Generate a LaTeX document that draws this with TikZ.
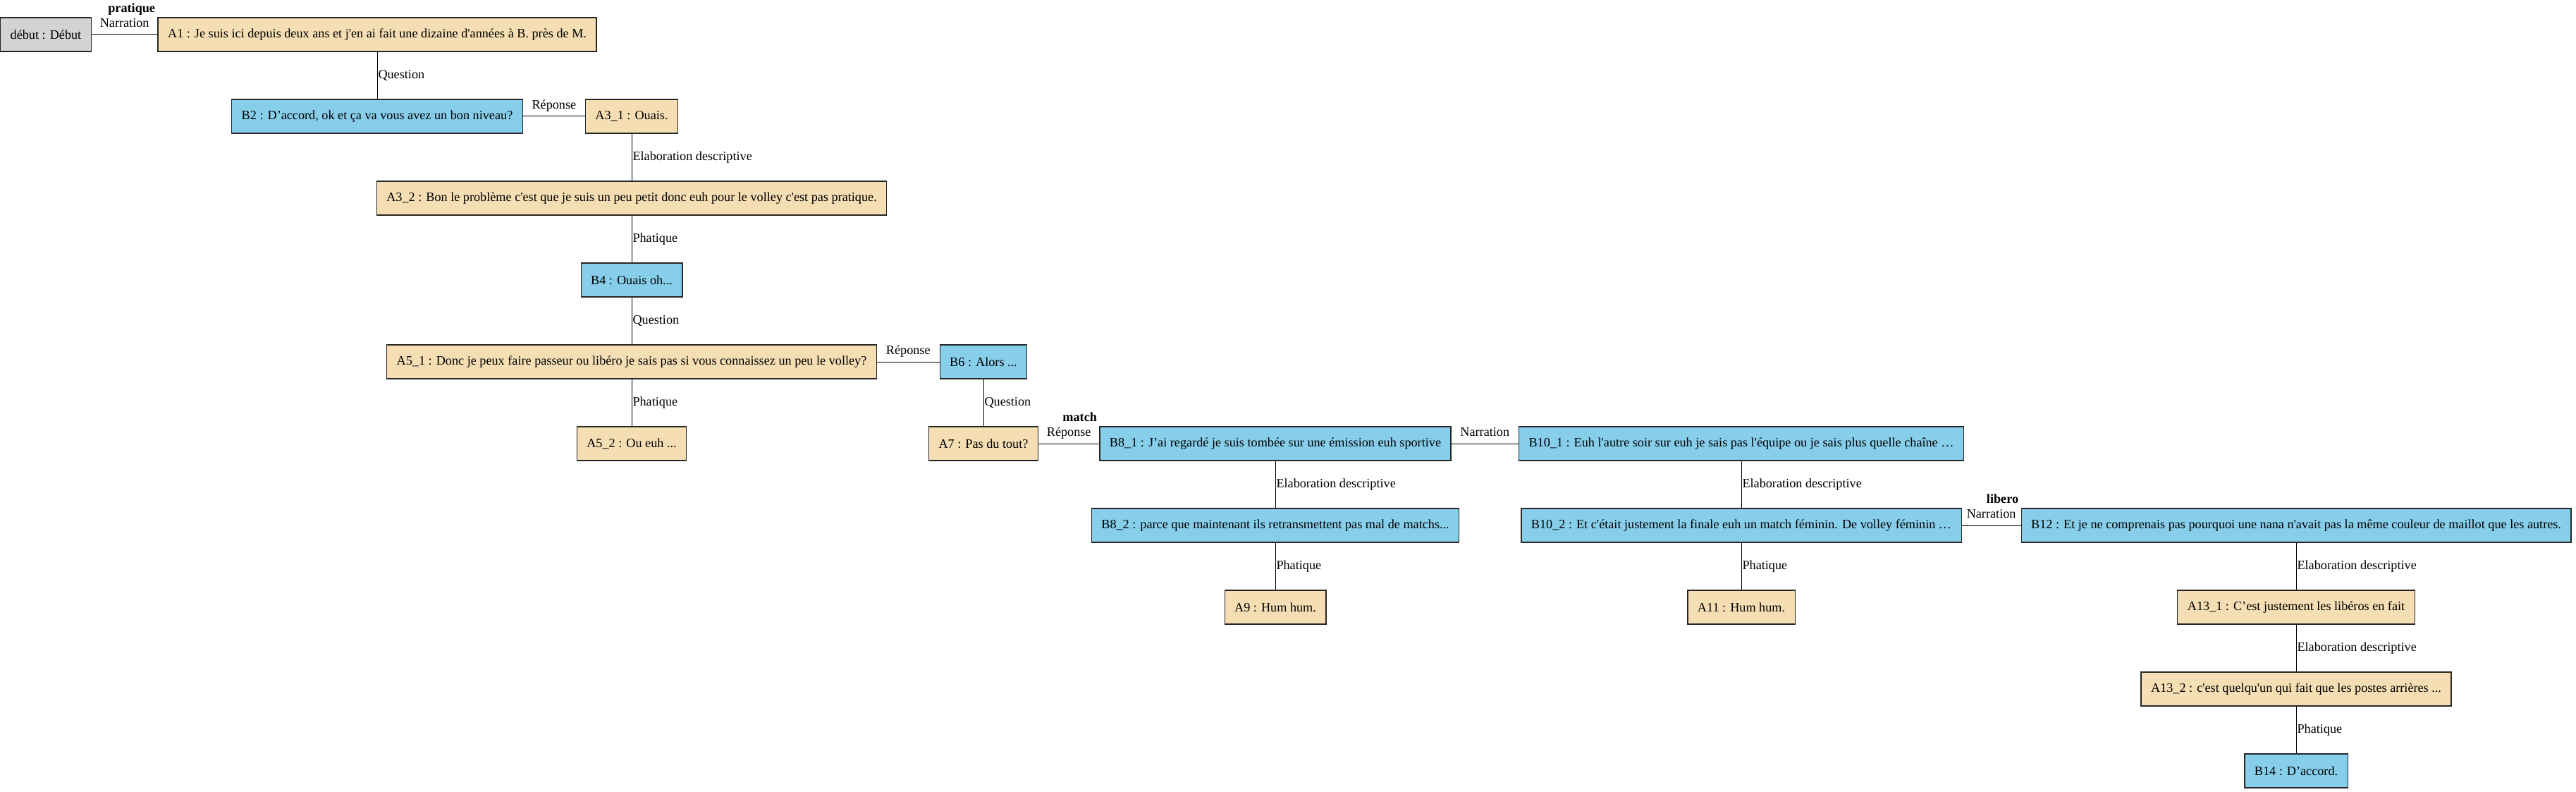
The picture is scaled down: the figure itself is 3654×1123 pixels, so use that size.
\documentclass[tikz,border=0pt]{standalone}
\usepackage{fontspec}
\setmainfont{Liberation Serif}
\usetikzlibrary{calc}
\definecolor{wheatA}{HTML}{F5DEB3}
\definecolor{skyB}{HTML}{87CEEB}
\definecolor{greyD}{HTML}{D3D3D3}
\newcommand{\apo}{\textquotesingle}
\tikzset{
  turn/.style={draw=black!85, line width=0.6pt, minimum height=24pt, inner xsep=7pt, font=\fontsize{9.1}{11}\selectfont},
  turnA/.style={turn, fill=wheatA},
  turnB/.style={turn, fill=skyB},
  turnD/.style={turn, fill=greyD},
  link/.style={line width=0.5pt},
  hrel/.style={midway, anchor=base, yshift=5.25pt, inner sep=0pt, font=\fontsize{9.1}{11}\selectfont},
  vrel/.style={midway, anchor=west, inner sep=0.5pt, font=\fontsize{9.1}{11}\selectfont},
  topic/.style={anchor=base east, yshift=3.5pt, inner sep=1.5pt, font=\fontsize{9.1}{11}\selectfont\bfseries}
}
\begin{document}
\begin{tikzpicture}[x=0.5pt, y=-0.5pt]
        \useasboundingbox (0, 0) rectangle (3654, 1123);
        % turns
        \node[turnD] (debut) at (65, 49) {début : Début};
        \node[turnA] (A1) at (535, 49) {A1 : Je suis ici depuis deux ans et j\apo en ai fait une dizaine d\apo années à B. près de M.};
        \node[turnB] (B2) at (535, 165) {B2 : D’accord, ok et ça va vous avez un bon niveau?};
        \node[turnA] (A3_1) at (896, 165) {A3\_1 : Ouais.};
        \node[turnA] (A3_2) at (896, 281) {A3\_2 : Bon le problème c\apo est que je suis un peu petit donc euh pour le volley c\apo est pas pratique.};
        \node[turnB] (B4) at (896, 397) {B4 : Ouais oh...};
        \node[turnA] (A5_1) at (896, 513) {A5\_1 : Donc je peux faire passeur ou libéro je sais pas si vous connaissez un peu le volley?};
        \node[turnB] (B6) at (1395, 513) {B6 : Alors ...};
        \node[turnA] (A5_2) at (896, 629) {A5\_2 : Ou euh ...};
        \node[turnA] (A7) at (1395, 629) {A7 : Pas du tout?};
        \node[turnB] (B8_1) at (1809, 629) {B8\_1 : J’ai regardé je suis tombée sur une émission euh sportive};
        \node[turnB] (B10_1) at (2470, 629) {B10\_1 : Euh l\apo autre soir sur euh je sais pas l\apo équipe ou je sais plus quelle chaîne …};
        \node[turnB] (B8_2) at (1809, 745) {B8\_2 : parce que maintenant ils retransmettent pas mal de matchs...};
        \node[turnB] (B10_2) at (2470, 745) {B10\_2 : Et c\apo était justement la finale euh un match féminin. De volley féminin …};
        \node[turnB] (B12) at (3257, 745) {B12 : Et je ne comprenais pas pourquoi une nana n\apo avait pas la même couleur de maillot que les autres.};
        \node[turnA] (A9) at (1809, 861) {A9 : Hum hum.};
        \node[turnA] (A11) at (2470, 861) {A11 : Hum hum.};
        \node[turnA] (A13_1) at (3257, 861) {A13\_1 : C’est justement les libéros en fait};
        \node[turnA] (A13_2) at (3257, 977) {A13\_2 : c\apo est quelqu\apo un qui fait que les postes arrières ...};
        \node[turnB] (B14) at (3257, 1093) {B14 : D’accord.};
        % relations
        \draw[link] (debut) -- (A1) node[hrel] {Narration};
        \draw[link] (A1) -- (B2) node[vrel] {Question};
        \draw[link] (B2) -- (A3_1) node[hrel] {Réponse};
        \draw[link] (A3_1) -- (A3_2) node[vrel] {Elaboration descriptive};
        \draw[link] (A3_2) -- (B4) node[vrel] {Phatique};
        \draw[link] (B4) -- (A5_1) node[vrel] {Question};
        \draw[link] (A5_1) -- (B6) node[hrel] {Réponse};
        \draw[link] (A5_1) -- (A5_2) node[vrel] {Phatique};
        \draw[link] (B6) -- (A7) node[vrel] {Question};
        \draw[link] (A7) -- (B8_1) node[hrel] {Réponse};
        \draw[link] (B8_1) -- (B10_1) node[hrel] {Narration};
        \draw[link] (B8_1) -- (B8_2) node[vrel] {Elaboration descriptive};
        \draw[link] (B10_1) -- (B10_2) node[vrel] {Elaboration descriptive};
        \draw[link] (B8_2) -- (A9) node[vrel] {Phatique};
        \draw[link] (B10_2) -- (A11) node[vrel] {Phatique};
        \draw[link] (B10_2) -- (B12) node[hrel] {Narration};
        \draw[link] (B12) -- (A13_1) node[vrel] {Elaboration descriptive};
        \draw[link] (A13_1) -- (A13_2) node[vrel] {Elaboration descriptive};
        \draw[link] (A13_2) -- (B14) node[vrel] {Phatique};
        % topics
        \node[topic] (pratique) at (A1.north west) {pratique};
        \node[topic] (match) at (B8_1.north west) {match};
        \node[topic] (libero) at (B12.north west) {libero};
\end{tikzpicture}
\end{document}
